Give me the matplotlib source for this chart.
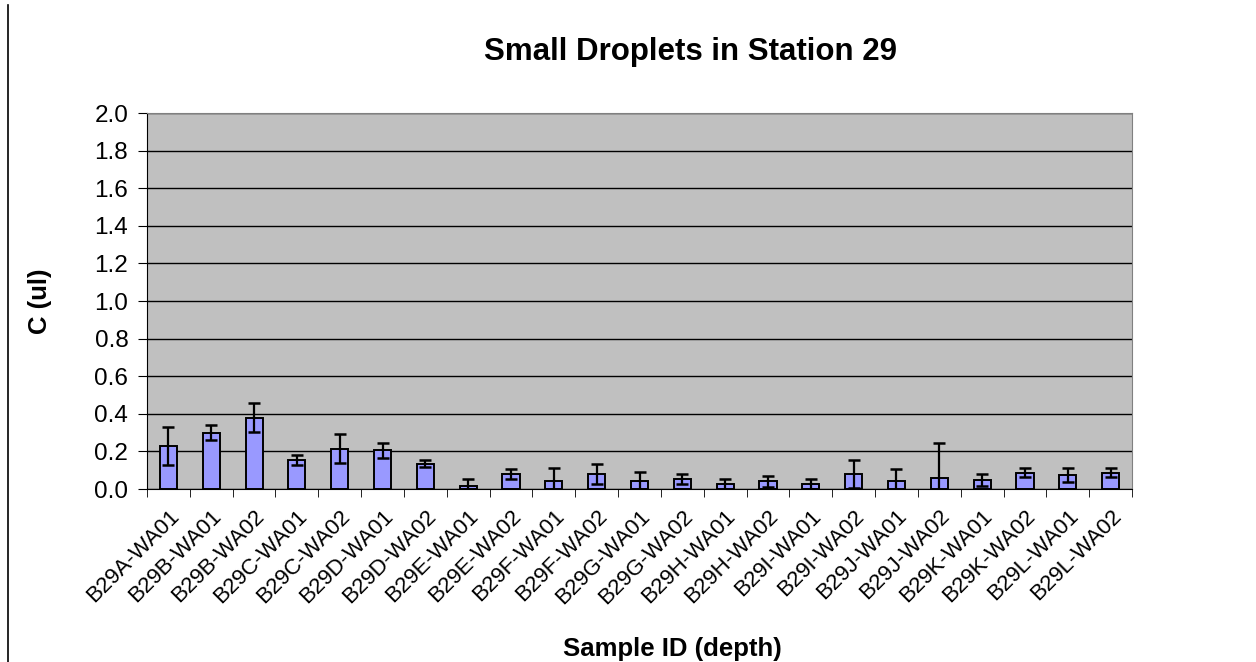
import numpy as np
import matplotlib.pyplot as plt

plt.rcParams['font.family'] = ['Liberation Sans', 'DejaVu Sans']

samples = ["B29A-WA01", "B29B-WA01", "B29B-WA02", "B29C-WA01", "B29C-WA02",
           "B29D-WA01", "B29D-WA02", "B29E-WA01", "B29E-WA02", "B29F-WA01",
           "B29F-WA02", "B29G-WA01", "B29G-WA02", "B29H-WA01", "B29H-WA02",
           "B29I-WA01", "B29I-WA02", "B29J-WA01", "B29J-WA02", "B29K-WA01",
           "B29K-WA02", "B29L-WA01", "B29L-WA02"]
conc = [0.23, 0.30, 0.38, 0.155, 0.215, 0.207, 0.135, 0.018, 0.078, 0.04,
        0.08, 0.04, 0.052, 0.025, 0.04, 0.025, 0.08, 0.04, 0.057, 0.048,
        0.087, 0.073, 0.087]
err = [0.10, 0.04, 0.075, 0.025, 0.075, 0.04, 0.018, 0.035, 0.027, 0.07,
       0.055, 0.05, 0.027, 0.03, 0.03, 0.027, 0.075, 0.065, 0.186, 0.03,
       0.025, 0.037, 0.025]

fig = plt.figure(figsize=(12.56, 6.62), dpi=100)
ax = fig.add_axes([147/1256, 1 - 489/662, 985/1256, 376/662])
ax.set_facecolor('#c0c0c0')

x = np.arange(len(samples))
ax.bar(x, conc, width=0.40, color='#9999ff', edgecolor='black', linewidth=1.4,
       yerr=err, error_kw=dict(ecolor='black', elinewidth=1.6, capsize=4.6, capthick=1.8),
       zorder=3)

ax.set_xlim(-0.5, len(samples) - 0.5)
ax.set_ylim(0, 2.0)
yt = np.arange(0, 2.01, 0.2)
ax.set_yticks(yt)
ax.set_yticklabels([f"{v:.1f}" for v in yt], fontsize=17.5)
ax.yaxis.grid(True, color='black', linewidth=1, zorder=1)
ax.set_axisbelow(True)

ax.set_xticks(x)
ax.set_xticklabels(samples, rotation=45, ha='right', rotation_mode='anchor', fontsize=16)
ax.tick_params(axis='x', which='major', length=0, pad=12)
ax.set_xticks(np.arange(-0.5, len(samples), 1), minor=True)
ax.tick_params(axis='x', which='minor', length=6, direction='out', color='black')
ax.tick_params(axis='y', length=6.5, direction='out', color='black', pad=7)

for side in ['top', 'right']:
    ax.spines[side].set_color('#808080')
ax.spines['left'].set_color('black')
ax.spines['bottom'].set_color('black')

ax.set_ylabel("C (ul)", fontsize=18.5, fontweight='bold')
ax.yaxis.set_label_coords(-0.096, 0.5)
fig.text(690/1256, 1 - 52/662, "Small Droplets in Station 29", fontsize=22.5, fontweight='bold',
         ha='center', va='center')
fig.text(672/1256, 1 - 649/662, "Sample ID (depth)", fontsize=18.5, fontweight='bold',
         ha='center', va='center')

fig.add_artist(plt.Line2D([8/1256, 8/1256], [0, 1 - 5/662], color='black', linewidth=1.2))

fig.savefig("out.png", dpi=100)
